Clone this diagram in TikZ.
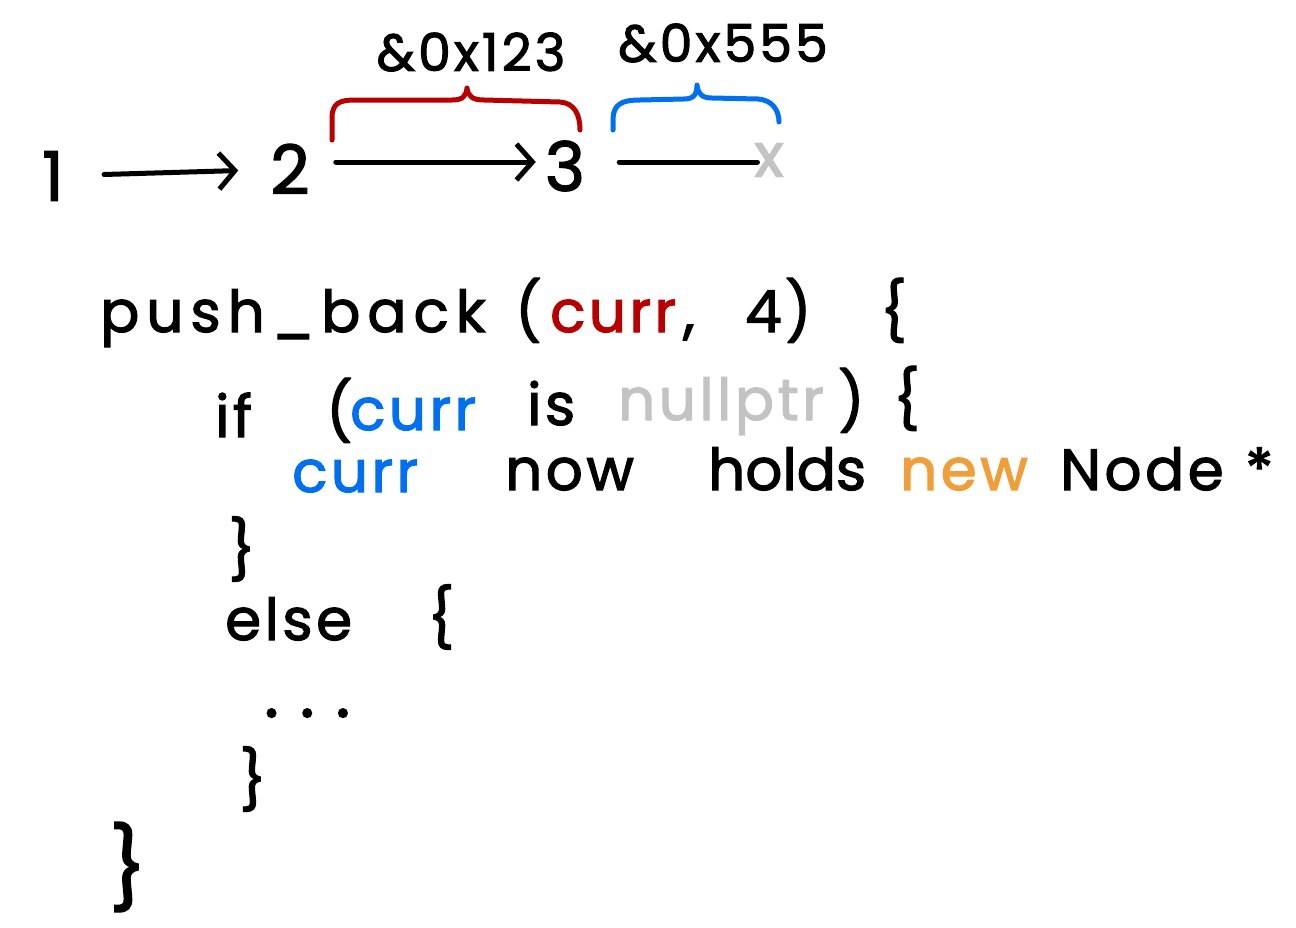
\documentclass[tikz,border=0pt]{standalone}
\usepackage{fontspec}
\setmainfont{Poppins}
\newfontfamily\handfont[LetterSpace=6,FakeBold=2]{Poppins}
\usetikzlibrary{arrows.meta}
\definecolor{ptrred}{RGB}{185,0,0}
\definecolor{ptrblue}{RGB}{0,112,240}
\definecolor{neworange}{RGB}{240,158,58}
\definecolor{nullgray}{RGB}{195,195,195}

\begin{document}
\begin{tikzpicture}[x=1pt,y=-1pt,
  word/.style={font=\handfont\fontsize{58}{60}\selectfont,anchor=base west,inner sep=0pt},
  num/.style={font=\handfont\fontsize{68}{70}\selectfont,inner sep=9pt},
  addr/.style={font=\handfont\fontsize{52}{54}\selectfont,inner sep=0pt},
  curly/.style={font=\handfont\fontsize{#1}{60}\selectfont,inner sep=0pt},
  link/.style={line width=5pt,line cap=round,line join=round,
    -{Straight Barb[length=16pt,width=36pt,line width=5pt]}},
  bracket/.style={line width=5pt,line cap=round,line join=round}]
  \useasboundingbox (0,0) rectangle (1296,927);
  % linked list on top
  \node[num] (one) at (53,176) {1};
  \node[num] (two) at (290,169) {2};
  \node[num] (three) at (565,166) {3};
  \node[addr,text=nullgray,font=\handfont\fontsize{60}{62}\selectfont] (tail) at (769,160) {x};
  \draw[link,shorten <=31pt,shorten >=23pt] (one) -- (two);
  \draw[link,shorten <=17pt] ([yshift=7pt]two.east) -- ([yshift=4pt]three.west);
  \draw[bracket,shorten <=25pt] ([yshift=4pt]three.east) -- ([xshift=3pt,yshift=-2pt]tail.west);
  \node[addr,text=nullgray,font=\handfont\fontsize{60}{62}\selectfont] at (tail) {x};
  % address braces
  \draw[bracket,ptrred] (332,140) -- (332,118) .. controls (332,103) and (340,100) .. (355,100)
    -- (452,100) .. controls (463,100) and (466,96) .. (467,88)
    .. controls (468,96) and (472,100) .. (484,100)
    -- (560,102) .. controls (574,103) and (580,114) .. (580,130);
  \draw[bracket,ptrblue] (613,130) -- (613,118) .. controls (614,104) and (622,100) .. (640,100)
    -- (684,99) .. controls (694,99) and (697,94) .. (697,85)
    .. controls (698,94) and (702,98) .. (712,98)
    -- (758,99) .. controls (772,100) and (779,110) .. (779,122);
  \node[addr] (addrred) at (471,52) {\&0x123};
  \node[addr] (addrblue) at (723,43) {\&0x555};
  % pseudo code
  \node[word,font=\handfont\fontsize{58}{60}\selectfont\addfontfeature{LetterSpace=12}] (fn) at (100,332) {push\_back};
  \node[word] (lp) at (515,332) {(};
  \node[word,text=ptrred] (arg) at (550,332) {curr};
  \node[word] (comma) at (683,332) {,};
  \node[word] (val) at (745,332) {4)};
  \node[word] (open) at (880,332) {\{};
  \node[word] (kwif) at (215,437) {if};
  \node[word] (lp2) at (326,432) {(};
  \node[word,text=ptrblue] (cond) at (350,430) {curr};
  \node[word] (kwis) at (527,425) {is};
  \node[word,text=nullgray] (null) at (618,420) {nullptr};
  \node[word] (rp2) at (838,422) {)};
  \node[word] (open2) at (893,420) {\{};
  \node[word,text=ptrblue] (lhs) at (292,492) {curr};
  \node[word] (now) at (505,490) {now};
  \node[word,font=\handfont\fontsize{58}{60}\selectfont\addfontfeature{LetterSpace=0}] (holds) at (708,490) {holds};
  \node[word,text=neworange] (kwnew) at (900,490) {new};
  \node[word] (type) at (1060,490) {Node};
  \node[word] (star) at (1245,490) {*};
  \node[curly=58] (close2) at (242,549) {\}};
  \node[word] (kwelse) at (225,640) {else};
  \node[curly=58] (open3) at (441,617) {\{};
  \node[word,font=\handfont\fontsize{70}{72}\selectfont\addfontfeature{LetterSpace=30}] (dots) at (264,717) {...};
  \node[curly=58] (close3) at (253,779) {\}};
  \node[curly=80] (close) at (128,867) {\}};
\end{tikzpicture}
\end{document}
